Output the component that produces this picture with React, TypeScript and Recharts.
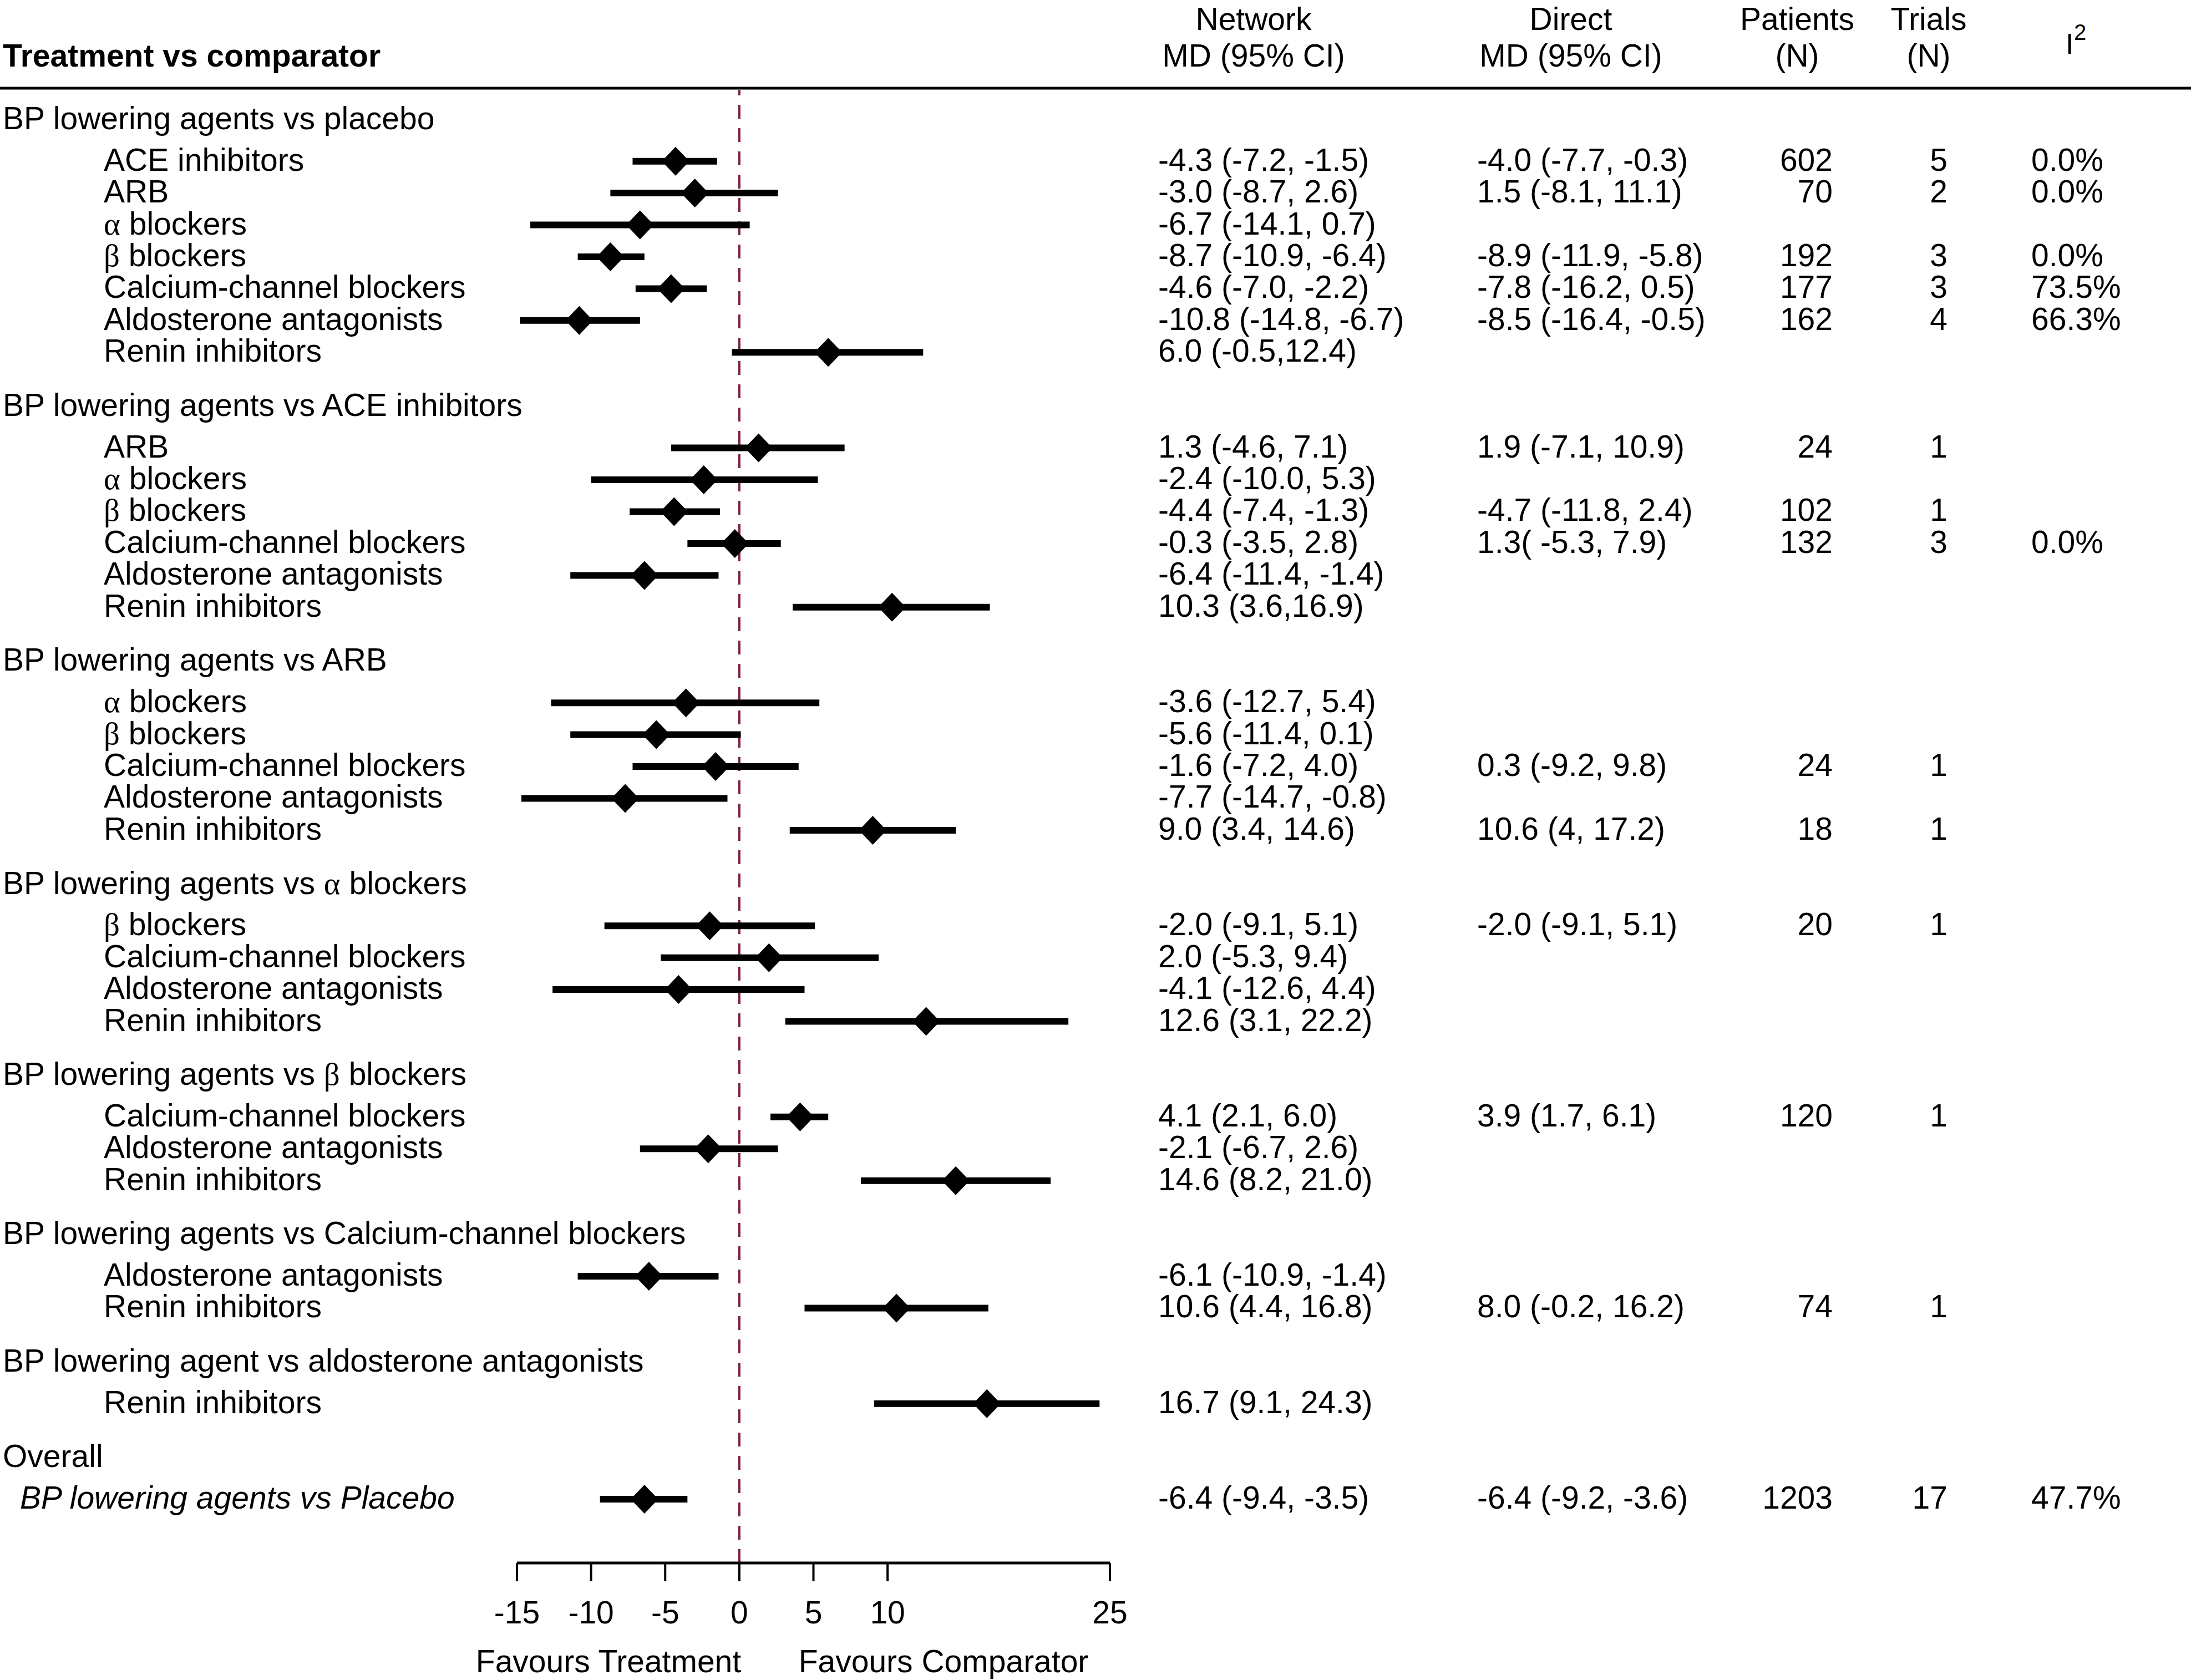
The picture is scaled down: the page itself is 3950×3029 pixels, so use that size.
import React from "react";
import { ScatterChart, Scatter, XAxis, YAxis, ErrorBar, ReferenceLine } from "recharts";

const FONT = '"Liberation Sans", Arial, Helvetica, sans-serif';
const GREEK_FONT = '"Liberation Serif", "Times New Roman", serif';
const FS = 57;

const groupTitles = [
  "BP lowering agents vs placebo",
  "BP lowering agents vs ACE inhibitors",
  "BP lowering agents vs ARB",
  "BP lowering agents vs α blockers",
  "BP lowering agents vs β blockers",
  "BP lowering agents vs Calcium-channel blockers",
  "BP lowering agent vs aldosterone antagonists",
  "Overall",
];

const rowGroup = [
  0, 0, 0, 0, 0, 0, 0,
  1, 1, 1, 1, 1, 1,
  2, 2, 2, 2, 2,
  3, 3, 3, 3,
  4, 4, 4,
  5, 5,
  6,
  7,
];

const treatments = [
  "ACE inhibitors", "ARB", "α blockers", "β blockers", "Calcium-channel blockers", "Aldosterone antagonists", "Renin inhibitors",
  "ARB", "α blockers", "β blockers", "Calcium-channel blockers", "Aldosterone antagonists", "Renin inhibitors",
  "α blockers", "β blockers", "Calcium-channel blockers", "Aldosterone antagonists", "Renin inhibitors",
  "β blockers", "Calcium-channel blockers", "Aldosterone antagonists", "Renin inhibitors",
  "Calcium-channel blockers", "Aldosterone antagonists", "Renin inhibitors",
  "Aldosterone antagonists", "Renin inhibitors",
  "Renin inhibitors",
  "BP lowering agents vs Placebo",
];

const meanDiff = [
  -4.3, -3.0, -6.7, -8.7, -4.6, -10.8, 6.0,
  1.3, -2.4, -4.4, -0.3, -6.4, 10.3,
  -3.6, -5.6, -1.6, -7.7, 9.0,
  -2.0, 2.0, -4.1, 12.6,
  4.1, -2.1, 14.6,
  -6.1, 10.6,
  16.7,
  -6.4,
];

const ciLow = [
  -7.2, -8.7, -14.1, -10.9, -7.0, -14.8, -0.5,
  -4.6, -10.0, -7.4, -3.5, -11.4, 3.6,
  -12.7, -11.4, -7.2, -14.7, 3.4,
  -9.1, -5.3, -12.6, 3.1,
  2.1, -6.7, 8.2,
  -10.9, 4.4,
  9.1,
  -9.4,
];

const ciHigh = [
  -1.5, 2.6, 0.7, -6.4, -2.2, -6.7, 12.4,
  7.1, 5.3, -1.3, 2.8, -1.4, 16.9,
  5.4, 0.1, 4.0, -0.8, 14.6,
  5.1, 9.4, 4.4, 22.2,
  6.0, 2.6, 21.0,
  -1.4, 16.8,
  24.3,
  -3.5,
];

const networkCI = [
  "-4.3 (-7.2, -1.5)", "-3.0 (-8.7, 2.6)", "-6.7 (-14.1, 0.7)", "-8.7 (-10.9, -6.4)", "-4.6 (-7.0, -2.2)", "-10.8 (-14.8, -6.7)", "6.0 (-0.5,12.4)",
  "1.3 (-4.6, 7.1)", "-2.4 (-10.0, 5.3)", "-4.4 (-7.4, -1.3)", "-0.3 (-3.5, 2.8)", "-6.4 (-11.4, -1.4)", "10.3 (3.6,16.9)",
  "-3.6 (-12.7, 5.4)", "-5.6 (-11.4, 0.1)", "-1.6 (-7.2, 4.0)", "-7.7 (-14.7, -0.8)", "9.0 (3.4, 14.6)",
  "-2.0 (-9.1, 5.1)", "2.0 (-5.3, 9.4)", "-4.1 (-12.6, 4.4)", "12.6 (3.1, 22.2)",
  "4.1 (2.1, 6.0)", "-2.1 (-6.7, 2.6)", "14.6 (8.2, 21.0)",
  "-6.1 (-10.9, -1.4)", "10.6 (4.4, 16.8)",
  "16.7 (9.1, 24.3)",
  "-6.4 (-9.4, -3.5)",
];

const directCI = [
  "-4.0 (-7.7, -0.3)", "1.5 (-8.1, 11.1)", "", "-8.9 (-11.9, -5.8)", "-7.8 (-16.2, 0.5)", "-8.5 (-16.4, -0.5)", "",
  "1.9 (-7.1, 10.9)", "", "-4.7 (-11.8, 2.4)", "1.3( -5.3, 7.9)", "", "",
  "", "", "0.3 (-9.2, 9.8)", "", "10.6 (4, 17.2)",
  "-2.0 (-9.1, 5.1)", "", "", "",
  "3.9 (1.7, 6.1)", "", "",
  "", "8.0 (-0.2, 16.2)",
  "",
  "-6.4 (-9.2, -3.6)",
];

const patientsN = [
  "602", "70", "", "192", "177", "162", "",
  "24", "", "102", "132", "", "",
  "", "", "24", "", "18",
  "20", "", "", "",
  "120", "", "",
  "", "74",
  "",
  "1203",
];

const trialsN = [
  "5", "2", "", "3", "3", "4", "",
  "1", "", "1", "3", "", "",
  "", "", "1", "", "1",
  "1", "", "", "",
  "1", "", "",
  "", "1",
  "",
  "17",
];

const i2 = [
  "0.0%", "0.0%", "", "0.0%", "73.5%", "66.3%", "",
  "", "", "", "0.0%", "", "",
  "", "", "", "", "",
  "", "", "", "",
  "", "", "",
  "", "",
  "",
  "47.7%",
];

const xTicks = [-15, -10, -5, 0, 5, 10, 25];

// row positions (in row units) built from the group structure
const headerRows: any[] = [];
const itemRows: any[] = [];
let start = 0;
groupTitles.forEach((title, g) => {
  headerRows.push({ v: start, md: 0, title });
  let k = 0;
  rowGroup.forEach((gg, i) => {
    if (gg !== g) return;
    itemRows.push({
      v: start + 1.3 + k,
      md: meanDiff[i],
      err: [meanDiff[i] - ciLow[i], ciHigh[i] - meanDiff[i]],
      label: treatments[i],
      network: networkCI[i],
      direct: directCI[i],
      patients: patientsN[i],
      trials: trialsN[i],
      i2: i2[i],
      overall: g === groupTitles.length - 1,
    });
    k++;
  });
  start += k + 2;
});

function Greekish({ text }: { text: string }) {
  const parts = text.split(/([αβ])/).filter((s) => s !== "");
  return (
    <>
      {parts.map((p, i) =>
        p === "α" || p === "β" ? (
          <tspan key={i} fontFamily={GREEK_FONT}>{p}</tspan>
        ) : (
          <tspan key={i}>{p}</tspan>
        )
      )}
    </>
  );
}

const DY = 17;

function HeaderShape(props: any) {
  const { cy, payload } = props;
  return (
    <text x={5} y={cy + DY} fontSize={FS} fontFamily={FONT} fill="#000">
      <Greekish text={payload.title} />
    </text>
  );
}

function RowShape(props: any) {
  const { cx, cy, payload } = props;
  const t = { fontSize: FS, fontFamily: FONT, fill: "#000" };
  return (
    <g>
      <polygon points={`${cx},${cy - 26} ${cx + 25},${cy} ${cx},${cy + 26} ${cx - 25},${cy}`} fill="#000" />
      <text x={payload.overall ? 36 : 187} y={cy + DY} {...t} fontStyle={payload.overall ? "italic" : "normal"}>
        <Greekish text={payload.label} />
      </text>
      <text x={2088} y={cy + DY} {...t}>{payload.network}</text>
      <text x={2663} y={cy + DY} {...t}>{payload.direct}</text>
      <text x={3304} y={cy + DY} {...t} textAnchor="end">{payload.patients}</text>
      <text x={3511} y={cy + DY} {...t} textAnchor="end">{payload.trials}</text>
      <text x={3662} y={cy + DY} {...t}>{payload.i2}</text>
    </g>
  );
}

export default function App() {
  return (
    <div style={{ position: "absolute", left: 0, top: 0, width: 3950, height: 3029, background: "#fff" }}>
      <ScatterChart width={3950} height={3029} margin={{ top: 162, right: 1949, bottom: 61, left: 932 }}>
        <XAxis
          type="number"
          dataKey="md"
          domain={[-15, 25]}
          ticks={xTicks}
          interval={0}
          height={150}
          tickSize={33}
          tickMargin={36}
          axisLine={{ stroke: "#000", strokeWidth: 5 }}
          tickLine={{ stroke: "#000", strokeWidth: 4 }}
          tick={{ fill: "#000", fontSize: FS, fontFamily: FONT }}
        />
        <YAxis type="number" dataKey="v" domain={[-0.94, 45.3]} reversed hide />
        <ReferenceLine x={0} stroke="#7d1f45" strokeWidth={4} strokeDasharray="25 17" />
        <Scatter data={headerRows} shape={HeaderShape} isAnimationActive={false} />
        <Scatter data={itemRows} shape={RowShape} isAnimationActive={false}>
          <ErrorBar dataKey="err" direction="x" width={0} stroke="#000" strokeWidth={12} isAnimationActive={false} />
        </Scatter>
      </ScatterChart>
      <svg
        width={3950}
        height={3029}
        style={{ position: "absolute", left: 0, top: 0, pointerEvents: "none" }}
        fontFamily={FONT}
        fontSize={FS}
        fill="#000"
      >
        <text x={5} y={120} fontWeight="bold">Treatment vs comparator</text>
        <text x={2260} y={54} textAnchor="middle">Network</text>
        <text x={2260} y={120} textAnchor="middle">MD (95% CI)</text>
        <text x={2832} y={54} textAnchor="middle">Direct</text>
        <text x={2832} y={120} textAnchor="middle">MD (95% CI)</text>
        <text x={3240} y={54} textAnchor="middle">Patients</text>
        <text x={3240} y={120} textAnchor="middle">(N)</text>
        <text x={3477} y={54} textAnchor="middle">Trials</text>
        <text x={3477} y={120} textAnchor="middle">(N)</text>
        <text x={3724} y={97} fontSize={52}>I</text>
        <text x={3739} y={72} fontSize={40}>2</text>
        <line x1={0} x2={3950} y1={159} y2={159} stroke="#000" strokeWidth={5} />
        <text x={1097} y={3015} textAnchor="middle">Favours Treatment</text>
        <text x={1701} y={3015} textAnchor="middle">Favours Comparator</text>
      </svg>
    </div>
  );
}
